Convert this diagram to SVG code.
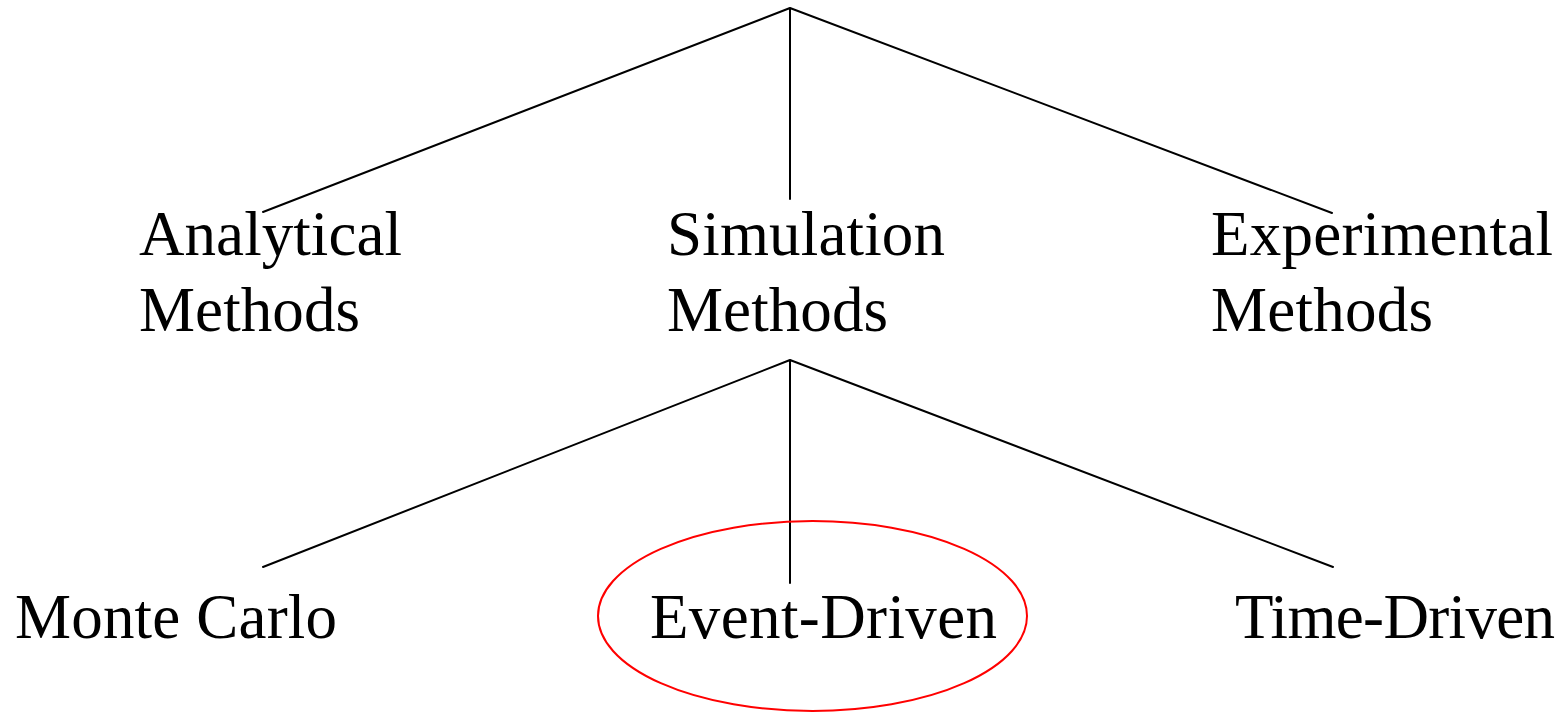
<svg xmlns="http://www.w3.org/2000/svg" width="1568" height="713" viewBox="0 0 1568 713">
<style>
.t{font-family:"Liberation Serif","Times New Roman",serif;font-size:63px;fill:#000}
.c{stroke:#000;stroke-width:2;fill:none;stroke-linecap:round}
</style>
<rect width="1568" height="713" fill="#fff"/>
<g id="connectors">
<path class="c" d="M790 8 L263 212 M790 8 L790 199 M790 8 L1332 213"/>
<path class="c" d="M790 360 L263 567 M790 360 L790 583 M790 360 L1333 567"/>
</g>
<g id="analytical"><text class="t" x="139" y="255" textLength="263">Analytical</text><text class="t" x="139" y="331" textLength="221">Methods</text></g>
<g id="simulation"><text class="t" x="667" y="255" textLength="278">Simulation</text><text class="t" x="667" y="331" textLength="221">Methods</text></g>
<g id="experimental"><text class="t" x="1211" y="255" textLength="342">Experimental</text><text class="t" x="1211" y="331" textLength="222">Methods</text></g>
<g id="montecarlo"><text class="t" x="15" y="638" textLength="322">Monte Carlo</text></g>
<g id="eventdriven"><ellipse cx="812.5" cy="616" rx="214.5" ry="95" fill="none" stroke="#f00" stroke-width="2"/><text class="t" x="650" y="638" textLength="347">Event-Driven</text></g>
<g id="timedriven"><text class="t" x="1235" y="638" textLength="320">Time-Driven</text></g>
</svg>
